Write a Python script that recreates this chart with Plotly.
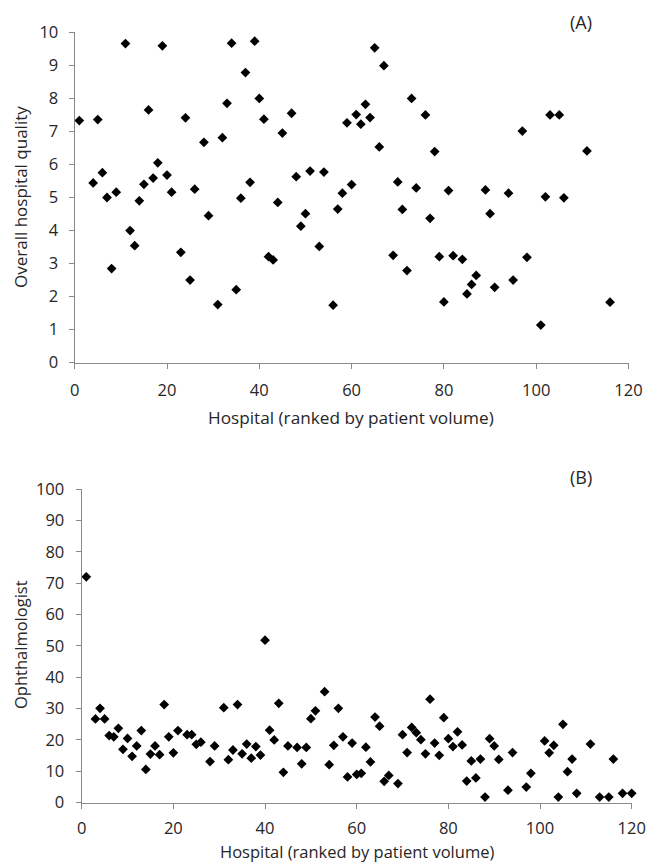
import plotly.graph_objects as go

# Panel A: overall hospital quality
a_x = [1, 4, 5, 6, 7, 8, 9, 11, 12, 13, 14, 15, 16, 17, 18, 19, 20, 21, 23, 24, 25, 26, 28, 29,
       31, 32, 33, 34, 35, 36, 37, 38, 39, 40, 41, 42, 43, 44, 45, 47, 48, 49, 50, 51, 53, 54,
       56, 57, 58, 59, 60, 61, 62, 63, 64, 65, 66, 67, 69, 70, 71, 72, 73, 74, 76, 77, 78, 79,
       80, 81, 82, 84, 85, 86, 87, 89, 90, 91, 94, 95, 97, 98, 101, 102, 103, 105, 106, 111, 116]
a_y = [7.33, 5.44, 7.36, 5.75, 5.0, 2.85, 5.16, 9.66, 4.0, 3.54, 4.9, 5.40, 7.65, 5.59, 6.05, 9.59,
       5.68, 5.16, 3.34, 7.41, 2.50, 5.25, 6.67, 4.45,
       1.76, 6.81, 7.85, 9.67, 2.21, 4.98, 8.78, 5.46, 9.73, 8.0, 7.37, 3.21, 3.11, 4.85, 6.95,
       7.55, 5.63, 4.13, 4.51, 5.80, 3.52, 5.77,
       1.74, 4.65, 5.13, 7.26, 5.39, 7.51, 7.22, 7.82, 7.42, 9.53, 6.53, 8.99, 3.25, 5.47, 4.64,
       2.79, 8.0, 5.29, 7.50, 4.37, 6.39, 3.21,
       1.84, 5.21, 3.24, 3.13, 2.08, 2.37, 2.64, 5.23, 4.51, 2.28, 5.13, 2.50, 7.01, 3.19, 1.14,
       5.02, 7.50, 7.50, 4.99, 6.41, 1.83]

# Panel B: ophthalmologist
b_x = [1, 3, 4, 5, 6, 7, 8, 9, 10, 11, 12, 13, 14, 15, 16, 17, 18, 19, 20, 21, 23, 24, 25, 26, 28, 29,
       31, 32, 33, 34, 35, 36, 37, 38, 39, 40, 41, 42, 43, 44, 45, 47, 48, 49, 50, 51, 53, 54, 55,
       56, 57, 58, 59, 60, 61, 62, 63, 64, 65, 66, 67, 69, 70, 71, 72, 73, 74, 75, 76, 77, 78, 79,
       80, 81, 82, 83, 84, 85, 86, 87, 88, 89, 90, 91, 93, 94, 97, 98, 101, 102, 103, 104, 105,
       106, 107, 108, 111, 113, 115, 116, 118, 120]
b_y = [72.0, 26.7, 30.1, 26.7, 21.4, 21.0, 23.7, 17.0, 20.5, 14.8, 18.1, 23.0, 10.6, 15.5, 18.1, 15.3,
       31.3, 21.0, 15.9, 23.0, 21.7, 21.7, 18.6, 19.3, 13.1, 18.1,
       30.3, 13.7, 16.8, 31.3, 15.6, 18.7, 14.2, 17.9, 15.2, 51.8, 23.1, 20.0, 31.7, 9.7, 18.1, 17.6,
       12.4, 17.6, 26.8, 29.3, 35.4, 12.1, 18.3,
       30.1, 21.0, 8.2, 19.0, 9.0, 9.35, 17.7, 13.0, 27.3, 24.4, 6.8, 8.7, 6.1, 21.7, 16.0, 24.0,
       22.3, 20.1, 15.6, 33.0, 19.0, 15.1, 27.1,
       20.4, 17.9, 22.6, 18.4, 6.9, 13.3, 7.9, 13.9, 1.8, 20.4, 18.1, 13.8, 4.0, 16.0, 5.0, 9.35,
       19.7, 15.9, 18.3, 1.8, 25.0,
       9.9, 13.9, 3.0, 18.7, 1.8, 1.8, 13.9, 3.0, 3.0]

x_ticks = [0, 20, 40, 60, 80, 100, 120]
a_ticks = list(range(0, 11))
b_ticks = list(range(0, 101, 10))

W, H = 647, 863
FONT = "Open Sans"
TXT = "#262626"
AX = "#898989"
marker = dict(symbol="diamond", size=7.5, color="black")

fig = go.Figure()
fig.add_trace(go.Scatter(x=a_x, y=a_y, mode="markers", marker=marker, xaxis="x", yaxis="y",
                         showlegend=False, hoverinfo="x+y", cliponaxis=False))
fig.add_trace(go.Scatter(x=b_x, y=b_y, mode="markers", marker=marker, xaxis="x2", yaxis="y2",
                         showlegend=False, hoverinfo="x+y", cliponaxis=False))

def px_x(p):
    return p / W

def px_y(p):
    return 1 - p / H

axis_common = dict(showgrid=False, zeroline=False, showline=True, linecolor=AX, linewidth=1.3,
                   ticks="outside", tickcolor=AX, ticklen=5, tickwidth=1, automargin=False,
                   tickfont=dict(family=FONT, size=16.5, color=TXT))

fig.update_layout(
    width=W, height=H,
    margin=dict(l=0, r=0, t=0, b=0, pad=0, autoexpand=False),
    paper_bgcolor="white", plot_bgcolor="white",
    xaxis=dict(domain=[px_x(74.7), px_x(628.5)], range=[0, 120], tickvals=x_ticks,
               anchor="y", ticklabelstandoff=7, **axis_common),
    yaxis=dict(domain=[px_y(362.7), px_y(32.3)], range=[0, 10], tickvals=a_ticks,
               anchor="x", ticklabelstandoff=7, **axis_common),
    xaxis2=dict(domain=[px_x(81.7), px_x(631.7)], range=[0, 120], tickvals=x_ticks,
                anchor="y2", ticklabelstandoff=5, **axis_common),
    yaxis2=dict(domain=[px_y(802.7), px_y(489)], range=[0, 100], tickvals=b_ticks,
                anchor="x2", ticklabelstandoff=8, **axis_common),
)

annotations = [
    dict(text="Hospital (ranked by patient volume)", x=px_x(351), y=px_y(417), xref="paper",
         yref="paper", showarrow=False, font=dict(family=FONT, size=17.2, color=TXT),
         xanchor="center", yanchor="middle"),
    dict(text="Overall hospital quality", x=px_x(20), y=px_y(197), xref="paper", yref="paper",
         showarrow=False, font=dict(family=FONT, size=17, color=TXT), textangle=-90,
         xanchor="center", yanchor="middle"),
    dict(text="(A)", x=px_x(581), y=px_y(22), xref="paper", yref="paper", showarrow=False,
         font=dict(family=FONT, size=18, color=TXT), xanchor="center", yanchor="middle"),
    dict(text="Hospital (ranked by patient volume)", x=px_x(357), y=px_y(851), xref="paper",
         yref="paper", showarrow=False, font=dict(family=FONT, size=16.5, color=TXT),
         xanchor="center", yanchor="middle"),
    dict(text="Ophthalmologist", x=px_x(20), y=px_y(645), xref="paper", yref="paper",
         showarrow=False, font=dict(family=FONT, size=16.5, color=TXT), textangle=-90,
         xanchor="center", yanchor="middle"),
    dict(text="(B)", x=px_x(581), y=px_y(477), xref="paper", yref="paper", showarrow=False,
         font=dict(family=FONT, size=18, color=TXT), xanchor="center", yanchor="middle"),
]
fig.update_layout(annotations=annotations)

fig.write_html("out.html", config={"displayModeBar": False},
               post_script="document.body.style.margin='0';document.body.style.overflow='hidden';")
